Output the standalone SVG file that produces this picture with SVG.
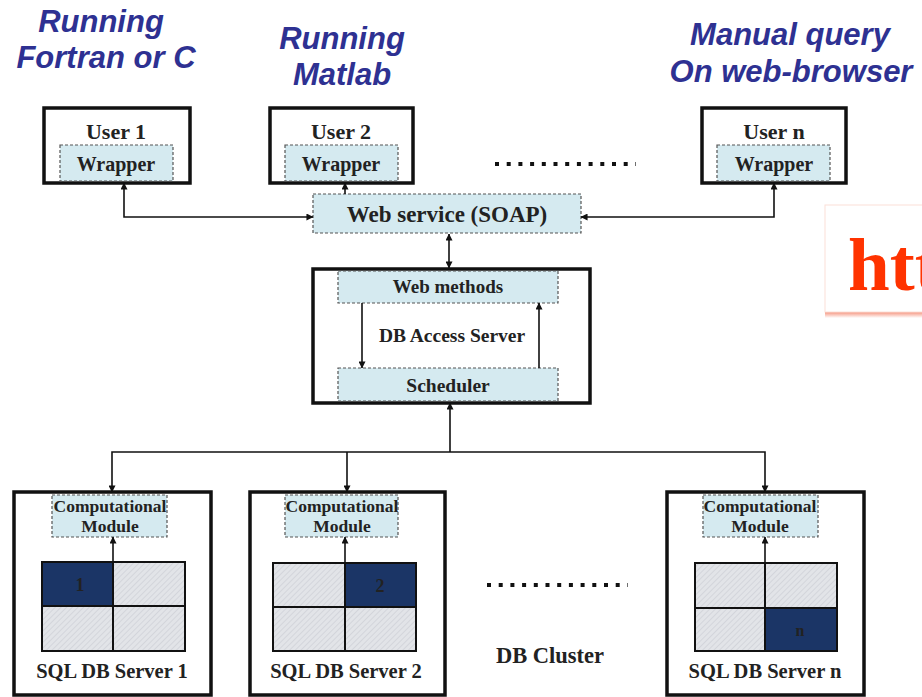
<svg xmlns="http://www.w3.org/2000/svg" width="922" height="697" viewBox="0 0 922 697">
<defs>
<style>
.lbl{font-family:"Liberation Sans",Arial,sans-serif;font-weight:bold;font-style:italic;font-size:31px;fill:#2E3192;text-anchor:middle}
.box{fill:#fff;stroke:#111;stroke-width:3.5}
.dash{fill:#d5eaf0;stroke:#555;stroke-width:1.2;stroke-dasharray:3 2}
.t{font-family:"Liberation Serif","Times New Roman",serif;font-weight:bold;fill:#222;text-anchor:middle}
.ln{fill:none;stroke:#111;stroke-width:1.6}
.cell{fill:url(#hatch);stroke:#111;stroke-width:2}
.dark{fill:#1b3566;stroke:#111;stroke-width:2}
.dots{fill:none;stroke:#111;stroke-width:4;stroke-dasharray:4 7.7}
</style>
<pattern id="hatch" width="4" height="4" patternUnits="userSpaceOnUse" patternTransform="rotate(45)">
<rect width="4" height="4" fill="#e2e4e8"/>
<line x1="0" y1="0" x2="0" y2="4" stroke="#c9ccd2" stroke-width="1.2"/>
</pattern>
<marker id="ah" viewBox="0 0 8 8" refX="7.5" refY="4" markerWidth="7" markerHeight="7" markerUnits="userSpaceOnUse" orient="auto-start-reverse">
<path d="M0,0 L8,4 L0,8 z" fill="#111"/>
</marker>
<linearGradient id="shadow" x1="0" y1="0" x2="0" y2="1">
<stop offset="0" stop-color="#f06040" stop-opacity="0.9"/>
<stop offset="1" stop-color="#f06040" stop-opacity="0"/>
</linearGradient>
</defs>

<!-- Blue labels -->
<g id="labels">
<text class="lbl" x="101" y="32">Running</text>
<text class="lbl" x="106" y="68">Fortran or C</text>
<text class="lbl" x="342" y="49">Running</text>
<text class="lbl" x="342" y="85">Matlab</text>
<text class="lbl" x="790" y="45">Manual query</text>
<text class="lbl" x="791" y="82">On web-browser</text>
</g>

<!-- red overlay box -->
<g id="overlay">
<rect x="825" y="310" width="97" height="8" fill="url(#shadow)"/>
<rect x="825" y="205" width="100" height="107" fill="#fff" stroke="#fbe0d8" stroke-width="1"/>
<text x="848" y="290" font-family="'Liberation Serif','Times New Roman',serif" font-weight="bold" font-size="75" fill="#ff3300">htt</text>
</g>

<!-- Users -->
<g id="user1">
<rect class="box" x="44" y="108" width="146" height="75"/>
<text class="t" x="116" y="139" font-size="22">User 1</text>
<rect class="dash" x="60" y="145" width="113" height="36"/>
<text class="t" x="116" y="171" font-size="20">Wrapper</text>
</g>
<g id="user2">
<rect class="box" x="270" y="108" width="143" height="75"/>
<text class="t" x="341" y="139" font-size="22">User 2</text>
<rect class="dash" x="285" y="145" width="113" height="36"/>
<text class="t" x="341" y="171" font-size="20">Wrapper</text>
</g>
<g id="usern">
<rect class="box" x="702" y="108" width="144" height="75"/>
<text class="t" x="774" y="139" font-size="22">User n</text>
<rect class="dash" x="717" y="145" width="113" height="36"/>
<text class="t" x="774" y="171" font-size="20">Wrapper</text>
</g>
<g id="dots-top"><line class="dots" x1="495" y1="164" x2="636" y2="164"/></g>

<!-- Web service -->
<g id="webservice">
<rect class="dash" x="313" y="194" width="268" height="39"/>
<text class="t" x="447" y="222" font-size="23">Web service (SOAP)</text>
</g>

<!-- DB Access Server -->
<g id="dbaccess">
<rect class="box" x="313" y="269" width="277" height="134"/>
<rect class="dash" x="338" y="271" width="220" height="32"/>
<text class="t" x="448" y="293" font-size="19">Web methods</text>
<text class="t" x="452" y="342" font-size="19.5">DB Access Server</text>
<rect class="dash" x="338" y="368" width="220" height="33"/>
<text class="t" x="448" y="392" font-size="19.5">Scheduler</text>
</g>

<!-- SQL servers -->
<g id="sql1">
<rect class="box" x="14" y="492" width="197" height="203"/>
<rect class="dash" x="52" y="495" width="115" height="42"/>
<text class="t" x="110" y="512" font-size="17.5">Computational</text>
<text class="t" x="110" y="532" font-size="17.5">Module</text>
<rect class="dark" x="42" y="562" width="71" height="44"/>
<rect class="cell" x="113" y="562" width="72" height="44"/>
<rect class="cell" x="42" y="606" width="71" height="45"/>
<rect class="cell" x="113" y="606" width="72" height="45"/>
<text class="t" x="80" y="591" font-size="18" fill="#333">1</text>
<text class="t" x="112" y="678" font-size="20.5">SQL DB Server 1</text>
</g>
<g id="sql2">
<rect class="box" x="250" y="492" width="195" height="203"/>
<rect class="dash" x="285" y="495" width="113" height="42"/>
<text class="t" x="342" y="512" font-size="17.5">Computational</text>
<text class="t" x="342" y="532" font-size="17.5">Module</text>
<rect class="cell" x="273" y="563" width="72" height="44"/>
<rect class="dark" x="345" y="563" width="71" height="44"/>
<rect class="cell" x="273" y="607" width="72" height="44"/>
<rect class="cell" x="345" y="607" width="71" height="44"/>
<text class="t" x="380" y="592" font-size="18" fill="#333">2</text>
<text class="t" x="346" y="678" font-size="20.5">SQL DB Server 2</text>
</g>
<g id="sqln">
<rect class="box" x="667" y="492" width="197" height="203"/>
<rect class="dash" x="703" y="495" width="115" height="42"/>
<text class="t" x="760" y="512" font-size="17.5">Computational</text>
<text class="t" x="760" y="532" font-size="17.5">Module</text>
<rect class="cell" x="695" y="563" width="70" height="45"/>
<rect class="cell" x="765" y="563" width="72" height="45"/>
<rect class="cell" x="695" y="608" width="70" height="43"/>
<rect class="dark" x="765" y="608" width="72" height="43"/>
<text class="t" x="800" y="636" font-size="16" fill="#333">n</text>
<text class="t" x="765" y="678" font-size="20.5">SQL DB Server n</text>
</g>
<g id="cluster">
<line class="dots" x1="487" y1="585" x2="628" y2="585"/>
<text class="t" x="550" y="663" font-size="22.5">DB Cluster</text>
</g>

<!-- Connectors -->
<g id="connectors">
<path class="ln" d="M313,217 H124 V183" marker-start="url(#ah)" marker-end="url(#ah)"/>
<path class="ln" d="M581,217 H774 V183" marker-start="url(#ah)" marker-end="url(#ah)"/>
<path class="ln" d="M345,194 V183" marker-end="url(#ah)"/>
<path class="ln" d="M449,234 V268" marker-start="url(#ah)" marker-end="url(#ah)"/>
<path class="ln" d="M362,303 V368" marker-end="url(#ah)"/>
<path class="ln" d="M539,368 V303" marker-end="url(#ah)"/>
<path class="ln" d="M450,452 V403" marker-end="url(#ah)"/>
<path class="ln" d="M112,492 V452 H765 V492" marker-start="url(#ah)" marker-end="url(#ah)"/>
<path class="ln" d="M347,452 V492" marker-end="url(#ah)"/>
<path class="ln" d="M113,562 V537" marker-end="url(#ah)"/>
<path class="ln" d="M345,563 V537" marker-end="url(#ah)"/>
<path class="ln" d="M765,563 V537" marker-end="url(#ah)"/>
</g>
</svg>
